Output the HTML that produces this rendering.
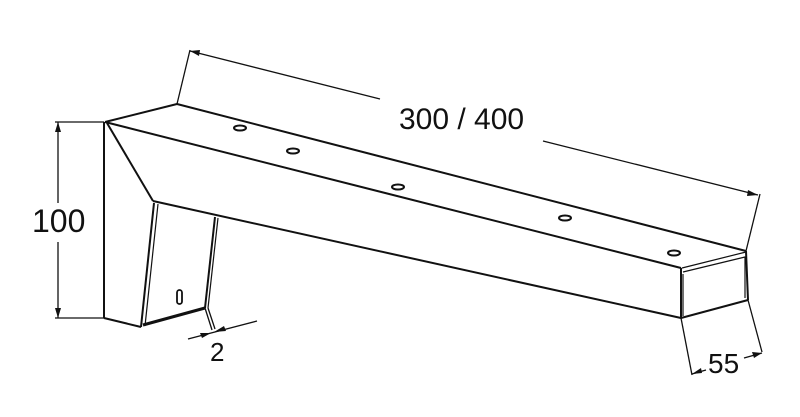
<!DOCTYPE html>
<html><head><meta charset="utf-8"><style>
html,body{margin:0;padding:0;background:#fff}
svg{display:block}
text{font-family:"Liberation Sans",sans-serif;fill:#111}
</style></head><body>
<svg width="800" height="417" viewBox="0 0 800 417" xmlns="http://www.w3.org/2000/svg">
<g fill="none" stroke="#111" stroke-width="2" stroke-linejoin="round">
<polyline points="105,122 177,104 746,251"/>
<line x1="105" y1="122" x2="681" y2="268"/>
<line x1="107" y1="123" x2="153" y2="201"/>
<line x1="153" y1="201" x2="681" y2="318"/>
<line x1="104" y1="122" x2="104" y2="318"/>
<line x1="104" y1="318" x2="141" y2="327"/>
<line x1="141" y1="327" x2="154" y2="203"/>
<line x1="145" y1="326" x2="158" y2="204" stroke-width="1.2"/>
<line x1="205" y1="308" x2="215" y2="217"/>
<line x1="208" y1="308" x2="218" y2="218" stroke-width="1.2"/>
<line x1="143" y1="325" x2="205" y2="308" stroke-width="3"/>
<rect x="177" y="290" width="5" height="14" rx="2.5" stroke-width="1.8"/>
<line x1="681" y1="268" x2="681" y2="318"/>
<line x1="746" y1="251" x2="748" y2="300"/>
<line x1="681" y1="318" x2="748" y2="300"/>
<polyline points="683,272 745,257 745,298" stroke-width="1.2"/>
<line x1="683" y1="274" x2="683" y2="316" stroke-width="1.2"/>
<line x1="682" y1="268" x2="746" y2="252" stroke-width="1.2"/>
<ellipse cx="240" cy="128" rx="6" ry="2.5"/>
<ellipse cx="293" cy="151" rx="6" ry="2.5"/>
<ellipse cx="398" cy="187" rx="6" ry="2.5"/>
<ellipse cx="565" cy="218" rx="6" ry="2.5"/>
<ellipse cx="674" cy="253" rx="6" ry="2.5"/>
</g>
<g fill="none" stroke="#111" stroke-width="1.3">
<line x1="55" y1="122" x2="104" y2="122"/>
<line x1="55" y1="318" x2="104" y2="318"/>
<line x1="58" y1="122" x2="58" y2="203"/>
<line x1="58" y1="242" x2="58" y2="318"/>
<line x1="177" y1="104" x2="190" y2="50"/>
<line x1="746" y1="251" x2="760" y2="194"/>
<line x1="190" y1="51" x2="380" y2="99"/>
<line x1="543" y1="141" x2="758" y2="195"/>
<line x1="205" y1="308" x2="212" y2="330"/>
<line x1="208" y1="308" x2="215" y2="329"/>
<line x1="188" y1="339" x2="257" y2="321"/>
<line x1="681" y1="318" x2="692" y2="375"/>
<line x1="748" y1="300" x2="762" y2="352"/>
<line x1="692" y1="374" x2="706" y2="370"/>
<line x1="744" y1="358" x2="762" y2="353"/>
</g>
<g fill="#111">
<polygon points="58,122 55,132 61,132"/>
<polygon points="58,318 55,308 61,308"/>
<polygon points="190,51 200,50 199,56"/>
<polygon points="758,195 748,190 747,196"/>
<polygon points="211,333 200,333 202,338"/>
<polygon points="214,332 224,326 226,331"/>
<polygon points="692,374 701,368 702,373"/>
<polygon points="762,353 752,352 754,358"/>
</g>
<text x="32" y="232" font-size="32">100</text>
<text x="399" y="129" font-size="30">300 / 400</text>
<text x="210" y="361" font-size="26">2</text>
<text x="708" y="373" font-size="28">55</text>
</svg>
</body></html>
